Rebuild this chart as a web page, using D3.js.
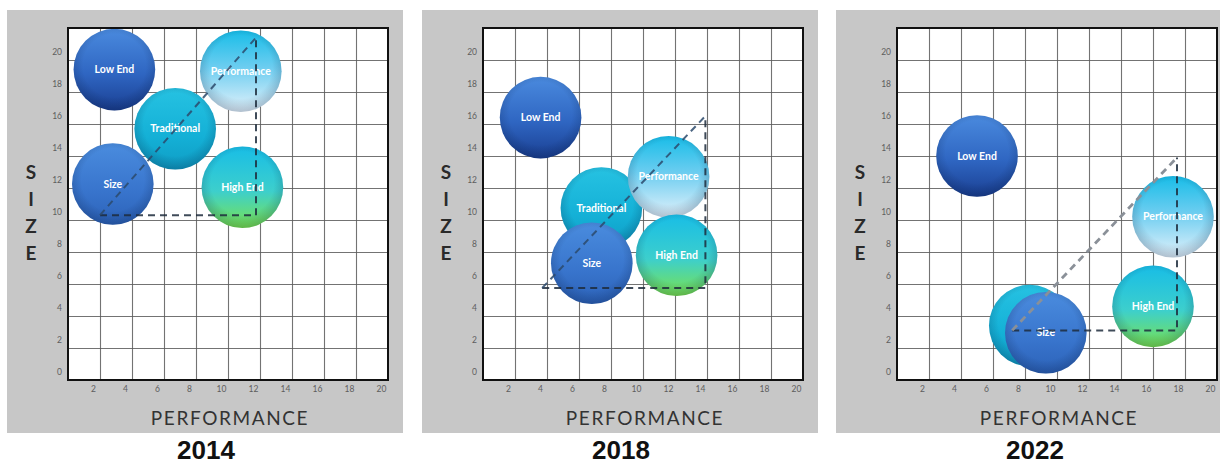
<!DOCTYPE html>
<html>
<head>
<meta charset="utf-8">
<script src="https://cdn.jsdelivr.net/npm/d3@7"></script>
<style>
  html, body { margin: 0; padding: 0; background: #ffffff; }
  svg { display: block; }
</style>
</head>
<body>
<svg id="chart" width="1220" height="465"></svg>
<script>
// Market segments positioned by performance (x) and size (y)
const segments = ["Low End", "Traditional", "Size", "Performance", "High End"];
const years = ["2014", "2018", "2022"];

// Segment centres per year, in segment order
const perf2014 = [2.9, 6.7, 2.8, 10.8, 10.9];
const size2014 = [19.4, 15.7, 12.25, 19.3, 12.05];
const perf2018 = [3.6, 7.4, 6.8, 11.6, 12.1];
const size2018 = [16.4, 10.75, 7.3, 12.7, 7.8];
const perf2022 = [5.0, 8.3, 9.3, 17.25, 16.0];
const size2022 = [14.0, 3.4, 2.95, 10.2, 4.6];

// Dashed guide triangle: lower-left and upper-right corners per year
const guideLow = [[2.0, 10.3], [3.7, 5.75], [7.2, 3.1]];
const guideHigh = [[11.75, 21.4], [13.9, 16.5], [17.5, 13.9]];

// Axis ticks
const xTicks = [2, 4, 6, 8, 10, 12, 14, 16, 18, 20];
const yTicks = [0, 2, 4, 6, 8, 10, 12, 14, 16, 18, 20];

const bubbleRadius = 2.55; // in performance units

const perfByYear = [perf2014, perf2018, perf2022];
const sizeByYear = [size2014, size2018, size2022];
const panelOffsets = [0, 415, 829];

const svg = d3.select("#chart");
const defs = svg.append("defs");

// Bubble fills
const fills = {
  "Low End":     [["0%", "#4a8ade"], ["55%", "#2f66c2"], ["100%", "#1a3f92"]],
  "Traditional": [["0%", "#26c2e2"], ["60%", "#14b0d6"], ["100%", "#0f9cc4"]],
  "Size":        [["0%", "#4a8cde"], ["60%", "#3874cc"], ["100%", "#2c62b8"]],
  "Performance": [["0%", "#18bde8"], ["45%", "#6ccdf0"], ["100%", "#e4f2fb"]],
  "High End":    [["0%", "#18bde6"], ["55%", "#3dcfcc"], ["100%", "#7ae34e"]]
};
segments.forEach((s, i) => {
  const lg = defs.append("linearGradient")
    .attr("id", "fill" + i).attr("x1", 0).attr("y1", 0).attr("x2", 0).attr("y2", 1);
  fills[s].forEach(([o, c]) => lg.append("stop").attr("offset", o).attr("stop-color", c));
});
// Soft rim shading that gives the bubbles depth
const rim = defs.append("radialGradient").attr("id", "rim")
  .attr("cx", "50%").attr("cy", "45%").attr("r", "55%");
rim.append("stop").attr("offset", "70%").attr("stop-color", "#001030").attr("stop-opacity", 0);
rim.append("stop").attr("offset", "100%").attr("stop-color", "#001030").attr("stop-opacity", 0.22);

const x = d3.scaleLinear().domain([0, 20]).range([68, 388]);
const y = d3.scaleLinear().domain([0, 22]).range([380, 28]);
const rPx = x(bubbleRadius) - x(0);

years.forEach((year, p) => {
  const g = svg.append("g").attr("transform", `translate(${panelOffsets[p]},0)`);

  // Gray card behind the chart
  g.append("rect").attr("x", 7).attr("y", 10).attr("width", 396).attr("height", 423)
    .attr("fill", "#c7c7c7");
  // Plot area
  g.append("rect").attr("x", x(0)).attr("y", y(22)).attr("width", x(20) - x(0))
    .attr("height", y(0) - y(22)).attr("fill", "#ffffff");

  // Grid
  const gridX = g.append("g").attr("transform", `translate(0,${y(0)})`)
    .call(d3.axisBottom(x).tickValues(xTicks.slice(0, -1)).tickSize(-(y(0) - y(22))).tickFormat(""));
  const gridY = g.append("g").attr("transform", `translate(${x(0)},0)`)
    .call(d3.axisLeft(y).tickValues(yTicks.slice(1)).tickSize(-(x(20) - x(0))).tickFormat(""));
  [gridX, gridY].forEach(a => {
    a.select(".domain").remove();
    a.selectAll("line").attr("stroke", "#5a5a5a").attr("stroke-width", 1.1).attr("stroke-opacity", 0.85);
  });

  // Tick labels
  const axX = g.append("g").attr("transform", `translate(-7,${y(0) + 3})`)
    .call(d3.axisBottom(x).tickValues(xTicks).tickSize(0).tickPadding(3));
  const axY = g.append("g").attr("transform", `translate(${x(0) - 3},-8)`)
    .call(d3.axisLeft(y).tickValues(yTicks).tickSize(0).tickPadding(3));
  [axX, axY].forEach(a => {
    a.select(".domain").remove();
    a.selectAll("text").attr("fill", "#5e5e5e").style("font-family", "Lato, sans-serif").style("font-size", "8.5px");
  });

  // Bubbles, later segments drawn on top
  const perf = perfByYear[p], size = sizeByYear[p];
  const order = [0, 1, 2, 3, 4];
  const bub = g.selectAll("g.bubble").data(order).join("g").attr("class", "bubble")
    .attr("transform", i => `translate(${x(perf[i])},${y(size[i])})`);
  bub.append("circle").attr("r", rPx).attr("fill", i => `url(#fill${i})`);
  bub.append("circle").attr("r", rPx).attr("fill", "url(#rim)");

  // A label is hidden when a bubble drawn later sits over its centre
  const covered = i => order.some(j => j > i &&
    Math.hypot(x(perf[j]) - x(perf[i]), y(size[j]) - y(size[i])) < rPx * 0.6);
  bub.filter(i => !covered(i)).append("text").text(i => segments[i])
    .attr("text-anchor", "middle").attr("dy", "0.35em")
    .attr("fill", "#ffffff").style("font-family", "Lato, sans-serif")
    .style("font-size", "10.5px").style("font-weight", 700);

  // Dashed guide triangle
  const lo = guideLow[p], hi = guideHigh[p];
  const line = d3.line().x(d => x(d[0])).y(d => y(d[1]));
  g.append("path").attr("d", line([[lo[0], lo[1]], [hi[0], lo[1]], [hi[0], hi[1]]]))
    .attr("fill", "none").attr("stroke", "#1d2b3c").attr("stroke-opacity", 0.85)
    .attr("stroke-width", 2).attr("stroke-dasharray", "7,5");
  g.append("path").attr("d", line([lo, hi]))
    .attr("fill", "none")
    .attr("stroke", p === 2 ? "#8a9098" : "#2c4a6c")
    .attr("stroke-opacity", p === 2 ? 1 : 0.85)
    .attr("stroke-width", p === 2 ? 2.8 : 2)
    .attr("stroke-dasharray", "7,5");

  // Frame
  g.append("rect").attr("x", x(0)).attr("y", y(22)).attr("width", x(20) - x(0))
    .attr("height", y(0) - y(22)).attr("fill", "none").attr("stroke", "#111").attr("stroke-width", 2);

  // Axis titles
  g.append("text").text("PERFORMANCE")
    .attr("x", 230).attr("y", 425).attr("text-anchor", "middle")
    .attr("fill", "#333").style("font-family", "Lato, sans-serif")
    .style("font-size", "19px").style("letter-spacing", "1.6px");
  ["S", "I", "Z", "E"].forEach((ch, k) => {
    g.append("text").text(ch).attr("x", 31).attr("y", 179 + k * 27)
      .attr("text-anchor", "middle").attr("fill", "#2a2a2a")
      .style("font-family", "Lato, sans-serif").style("font-size", "19px").style("font-weight", 700);
  });

  // Year caption
  g.append("text").text(year)
    .attr("x", 206).attr("y", 459).attr("text-anchor", "middle")
    .attr("fill", "#111").style("font-family", "'Liberation Sans', Arial, sans-serif")
    .style("font-size", "26px").style("font-weight", 700);
});
</script>
</body>
</html>
